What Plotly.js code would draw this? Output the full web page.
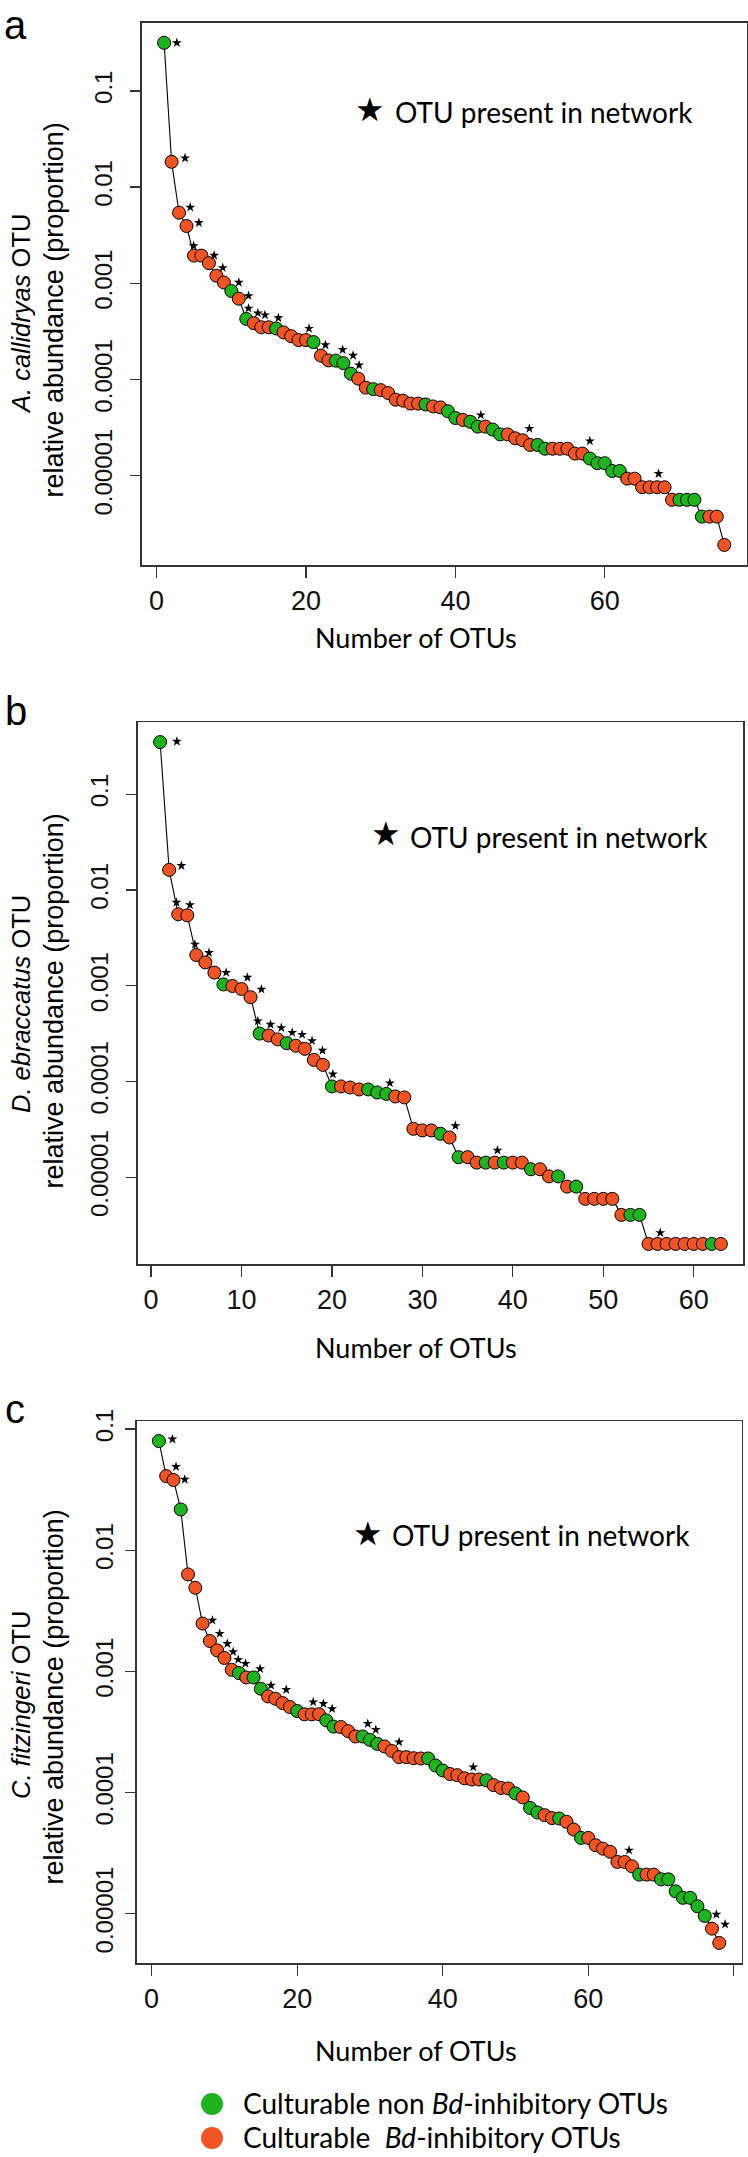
<!DOCTYPE html>
<html>
<head>
<meta charset="utf-8">
<script src="https://cdn.plot.ly/plotly-3.0.1.min.js"></script>
<style>
html,body{margin:0;padding:0;background:#fff;}
#chart{width:748px;height:2157px;}
</style>
</head>
<body>
<div id="chart"></div>
<script>
// ---------- Panel a: A. callidryas ----------
const abundA = [0.316, 0.0183, 0.00542, 0.00394, 0.00194, 0.00194, 0.00162, 0.00120, 0.00102, 0.000832,
  0.000692, 0.000427, 0.000385, 0.000349, 0.000349, 0.000339, 0.000309, 0.000282, 0.000257, 0.000257,
  0.000245, 0.000177, 0.000158, 0.000157, 0.000148, 0.000115, 0.000102, 8.24e-5, 7.94e-5, 7.76e-5,
  7.24e-5, 6.17e-5, 6.03e-5, 5.62e-5, 5.62e-5, 5.50e-5, 5.25e-5, 5.13e-5, 4.68e-5, 3.98e-5,
  3.80e-5, 3.63e-5, 3.24e-5, 3.24e-5, 3.02e-5, 2.69e-5, 2.69e-5, 2.45e-5, 2.34e-5, 2.09e-5,
  2.09e-5, 1.91e-5, 1.91e-5, 1.91e-5, 1.91e-5, 1.70e-5, 1.70e-5, 1.51e-5, 1.35e-5, 1.35e-5,
  1.12e-5, 1.12e-5, 9.33e-6, 9.33e-6, 7.59e-6, 7.59e-6, 7.59e-6, 7.59e-6, 5.62e-6, 5.62e-6,
  5.62e-6, 5.62e-6, 3.76e-6, 3.76e-6, 3.76e-6, 1.91e-6];
// 1 = culturable Bd-inhibitory (orange), 0 = culturable non Bd-inhibitory (green)
const inhibA = [0,1,1,1,1,1,1,1,1,0, 1,0,1,1,1,0,1,1,1,1, 0,1,1,0,0,0,1,1,0,1,
  1,1,1,1,1,0,1,1,0,0, 1,0,0,1,0,0,1,1,1,1, 0,0,1,1,1,1,1,0,0,0,
  0,0,1,1,1,1,1,1,1,0, 0,0,0,1,1,1];
// "OTU present in network" star marks (x in OTU units, y in proportion)
const starXA = [2.7, 3.8, 4.5, 5.65, 4.95, 7.7, 8.85, 11.0, 12.3, 12.3, 13.55, 14.5, 16.3, 20.4, 22.6, 24.9, 26.3, 27.1, 43.4, 49.9, 58.0, 67.2];
const starYA = [0.316, 0.0200, 0.00617, 0.00427, 0.00245, 0.00195, 0.00145, 0.00102, 0.000741, 0.000550, 0.000490, 0.000468, 0.000437, 0.000339, 0.000229, 0.000204, 0.000178, 0.000141, 4.27e-5, 3.09e-5, 2.29e-5, 1.05e-5];
const xTicksA = [0, 20, 40, 60];

// ---------- Panel b: D. ebraccatus ----------
const abundB = [0.350, 0.0162, 0.00557, 0.00543, 0.00209, 0.00175, 0.00137, 0.00103, 0.000993, 0.000923,
  0.000759, 0.000316, 0.000302, 0.000275, 0.000251, 0.000236, 0.000219, 0.000168, 0.000149, 8.87e-5,
  8.87e-5, 8.65e-5, 8.25e-5, 8.25e-5, 7.67e-5, 7.41e-5, 6.97e-5, 6.81e-5, 3.20e-5, 3.08e-5,
  3.08e-5, 2.84e-5, 2.60e-5, 1.62e-5, 1.62e-5, 1.42e-5, 1.42e-5, 1.42e-5, 1.42e-5, 1.42e-5,
  1.42e-5, 1.21e-5, 1.21e-5, 1.02e-5, 1.02e-5, 7.98e-6, 7.98e-6, 5.94e-6, 5.94e-6, 5.94e-6,
  5.94e-6, 4.04e-6, 4.04e-6, 4.04e-6, 2.01e-6, 2.01e-6, 2.01e-6, 2.01e-6, 2.01e-6, 2.01e-6,
  2.01e-6, 2.01e-6, 2.01e-6];
const inhibB = [0,1,1,1,1,1,1,0,1,1, 1,0,1,1,0,1,1,1,1,0, 1,1,1,0,0,0,1,1,1,1,
  1,0,1,0,1,1,0,1,0,1, 1,0,1,1,0,1,0,1,1,1, 1,1,0,0,1,1,1,1,1,1,
  1,0,1];
const starXB = [2.85, 3.35, 2.8, 4.3, 4.85, 6.4, 8.3, 10.65, 12.2, 11.8, 13.2, 14.4, 15.6, 16.7, 17.8, 18.95, 20.1, 26.4, 33.65, 38.3, 56.3];
const starYB = [0.355, 0.0179, 0.00741, 0.00697, 0.00270, 0.00221, 0.00137, 0.00122, 0.000916, 0.000427, 0.000394, 0.000363, 0.000324, 0.000309, 0.000266, 0.000211, 0.000119, 9.62e-5, 3.44e-5, 1.91e-5, 2.63e-6];
const xTicksB = [0, 10, 20, 30, 40, 50, 60];

// ---------- Panel c: C. fitzingeri ----------
const abundC = [0.0796, 0.0409, 0.0380, 0.0217, 0.00631, 0.00490, 0.00248, 0.00178, 0.00149, 0.00129,
  0.00103, 0.000968, 0.000891, 0.000891, 0.000719, 0.000621, 0.000594, 0.000547, 0.000507, 0.000470,
  0.000442, 0.000442, 0.000442, 0.000394, 0.000350, 0.000347, 0.000321, 0.000290, 0.000290, 0.000272,
  0.000252, 0.000240, 0.000220, 0.000196, 0.000196, 0.000192, 0.000191, 0.000191, 0.000167, 0.000152,
  0.000142, 0.000139, 0.000131, 0.000128, 0.000128, 0.000126, 0.000115, 0.000109, 0.000108, 9.82e-5,
  9.10e-5, 7.46e-5, 6.84e-5, 6.50e-5, 6.15e-5, 6.10e-5, 5.73e-5, 4.94e-5, 4.22e-5, 4.22e-5,
  3.67e-5, 3.44e-5, 3.24e-5, 2.67e-5, 2.67e-5, 2.46e-5, 2.10e-5, 2.10e-5, 2.10e-5, 1.92e-5,
  1.92e-5, 1.53e-5, 1.35e-5, 1.35e-5, 1.15e-5, 9.57e-6, 7.52e-6, 5.73e-6];
const inhibC = [0,1,1,0,1,1,1,1,1,1, 1,0,1,0,0,1,1,1,1,0, 1,1,1,0,0,1,1,1,0,0,
  0,1,1,1,1,1,1,0,0,0, 1,1,1,1,1,0,1,1,1,0, 1,0,0,1,1,0,1,1,0,1,
  1,1,1,1,1,1,0,1,1,0, 0,0,0,0,0,0,1,1];
const starXC = [2.85, 3.35, 4.55, 8.35, 9.35, 10.4, 11.2, 11.9, 12.9, 14.9, 16.4, 18.5, 22.2, 23.6, 24.8, 29.7, 30.8, 34.0, 44.2, 65.6, 77.6, 78.8];
const starYC = [0.0826, 0.0489, 0.0384, 0.00264, 0.00205, 0.00169, 0.00145, 0.00125, 0.00116, 0.00105, 0.000766, 0.000705, 0.000558, 0.000541, 0.000491, 0.000370, 0.000330, 0.000261, 0.000162, 3.33e-5, 9.86e-6, 8.17e-6];
const xTicksC = [0, 20, 40, 60, 80];

const yTickVals = [0.1, 0.01, 0.001, 0.0001, 0.00001];
const yTickText = ['0.1', '0.01', '0.001', '0.0001', '0.00001'];
const speciesNames = ['A. callidryas', 'D. ebraccatus', 'C. fitzingeri'];
const panelLetters = ['a', 'b', 'c'];
const legendLabels = ['Culturable non <i>Bd</i>-inhibitory OTUs', 'Culturable\u00a0 <i>Bd</i>-inhibitory OTUs'];
const networkLabel = 'OTU present in network';
const xTitle = 'Number of OTUs';

// ---------- styling / layout ----------
const W = 748, H = 2157;
const PX = v => v / W;
const PY = v => 1 - v / H;
const GREEN = '#1EB41E', ORANGE = '#EF5422';
const AX = 'Liberation Sans, Arial, Helvetica, sans-serif';
const MY = 'Lato, Open Sans, sans-serif';

function linRange(n) { const d = (n - 1) * 0.04; return [1 - d, n + d]; }
function logRange(v) {
  const l = v.map(Math.log10);
  const lo = Math.min(...l), hi = Math.max(...l), d = (hi - lo) * 0.04;
  return [lo - d, hi + d];
}

const panels = [
  {abund: abundA, inhib: inhibA, sx: starXA, sy: starYA, xt: xTicksA,
   box: [141.7, 746.7, 22.7, 565], lab: [16, 1, 'top'], star: [369.5, 109], net: 393, netY: 112,
   t1: [21, 314], t2: [53.5, 310], xtY: 638, standoff: 9},
  {abund: abundB, inhib: inhibB, sx: starXB, sy: starYB, xt: xTicksB,
   box: [137.7, 743.3, 722, 1264], lab: [16, 711, 'middle'], star: [386, 833], net: 408, netY: 836.5,
   t1: [21, 1004], t2: [53.5, 1001], xtY: 1347, standoff: 9},
  {abund: abundC, inhib: inhibC, sx: starXC, sy: starYC, xt: xTicksC,
   box: [136.5, 741.7, 1421, 1963], lab: [15, 1409, 'middle'], star: [367.5, 1533], net: 390, netY: 1535,
   t1: [21, 1705], t2: [53.5, 1697], xtY: 2050, standoff: 2}
];

const traces = [];
const layout = {
  width: W, height: H,
  margin: {l: 0, r: 0, t: 0, b: 0},
  paper_bgcolor: '#fff', plot_bgcolor: '#fff',
  showlegend: false,
  annotations: [], shapes: []
};

panels.forEach((p, i) => {
  const k = i === 0 ? '' : String(i + 1);
  const xs = p.abund.map((_, j) => j + 1);
  traces.push({x: xs, y: p.abund, xaxis: 'x' + k, yaxis: 'y' + k, mode: 'lines',
    line: {color: '#000', width: 1.1}, hoverinfo: 'skip', cliponaxis: false});
  traces.push({x: xs, y: p.abund, xaxis: 'x' + k, yaxis: 'y' + k, mode: 'markers', cliponaxis: false,
    marker: {size: 13, color: p.inhib.map(v => v ? ORANGE : GREEN), line: {color: '#000', width: 1}}});
  traces.push({x: p.sx, y: p.sy, xaxis: 'x' + k, yaxis: 'y' + k, mode: 'markers', cliponaxis: false,
    marker: {symbol: 'star', size: 7.5, color: '#000', line: {width: 0}}});

  const b = p.box;
  layout['xaxis' + k] = {
    domain: [PX(b[0]), PX(b[1])], anchor: 'y' + k, range: linRange(p.abund.length),
    tickvals: p.xt, ticks: 'outside', ticklen: 11, tickwidth: 1.3, tickcolor: '#333',
    showline: true, linecolor: '#333', linewidth: 1.5, mirror: true,
    showgrid: false, zeroline: false, fixedrange: true,
    tickfont: {family: AX, size: 27, color: '#111'}
  };
  layout['yaxis' + k] = {
    domain: [PY(b[3]), PY(b[2])], anchor: 'x' + k, type: 'log', range: logRange(p.abund),
    tickvals: yTickVals, ticktext: yTickText, tickangle: -90,
    ticks: 'outside', ticklen: 10, tickwidth: 1.3, tickcolor: '#333',
    showline: true, linecolor: '#333', linewidth: 1.5, mirror: true,
    showgrid: false, zeroline: false, fixedrange: true, ticklabelstandoff: p.standoff,
    tickfont: {family: AX, size: 24, color: '#111'}
  };

  const A = layout.annotations;
  A.push({xref: 'paper', yref: 'paper', x: PX(p.lab[0]), y: PY(p.lab[1]), xanchor: 'center', yanchor: p.lab[2],
    showarrow: false, text: panelLetters[i], font: {family: AX, size: 40, color: '#000'}});
  A.push({xref: 'paper', yref: 'paper', x: PX(p.star[0]), y: PY(p.star[1]), xanchor: 'center', yanchor: 'middle',
    showarrow: false, text: '\u2605', font: {family: 'DejaVu Sans', size: 33, color: '#000'}});
  A.push({xref: 'paper', yref: 'paper', x: PX(p.net), y: PY(p.netY), xanchor: 'left', yanchor: 'middle',
    showarrow: false, text: networkLabel, font: {family: MY, size: 28, color: '#000'}});
  A.push({xref: 'paper', yref: 'paper', x: PX(p.t1[0]), y: PY(p.t1[1]), xanchor: 'center', yanchor: 'middle',
    showarrow: false, textangle: -90, text: '<i>' + speciesNames[i] + '</i> OTU',
    font: {family: AX, size: 25.5, color: '#000'}});
  A.push({xref: 'paper', yref: 'paper', x: PX(p.t2[0]), y: PY(p.t2[1]), xanchor: 'center', yanchor: 'middle',
    showarrow: false, textangle: -90, text: 'relative abundance (proportion)',
    font: {family: AX, size: 27, color: '#000'}});
  A.push({xref: 'paper', yref: 'paper', x: PX(416), y: PY(p.xtY), xanchor: 'center', yanchor: 'middle',
    showarrow: false, text: xTitle, font: {family: MY, size: 27, color: '#000'}});
});

// legend
const legColors = [GREEN, ORANGE];
const legY = [2104, 2138];
legendLabels.forEach((t, i) => {
  const r = 11;
  layout.shapes.push({type: 'circle', xref: 'paper', yref: 'paper',
    x0: PX(212 - r), x1: PX(212 + r), y0: PY(legY[i] + r), y1: PY(legY[i] - r),
    fillcolor: legColors[i], line: {width: 0}});
  layout.annotations.push({xref: 'paper', yref: 'paper', x: PX(241), y: PY(legY[i] - 1), xanchor: 'left', yanchor: 'middle',
    showarrow: false, text: t, font: {family: MY, size: 28, color: '#000'}});
});

Plotly.newPlot('chart', traces, layout, {staticPlot: true, displayModeBar: false});
</script>
</body>
</html>
